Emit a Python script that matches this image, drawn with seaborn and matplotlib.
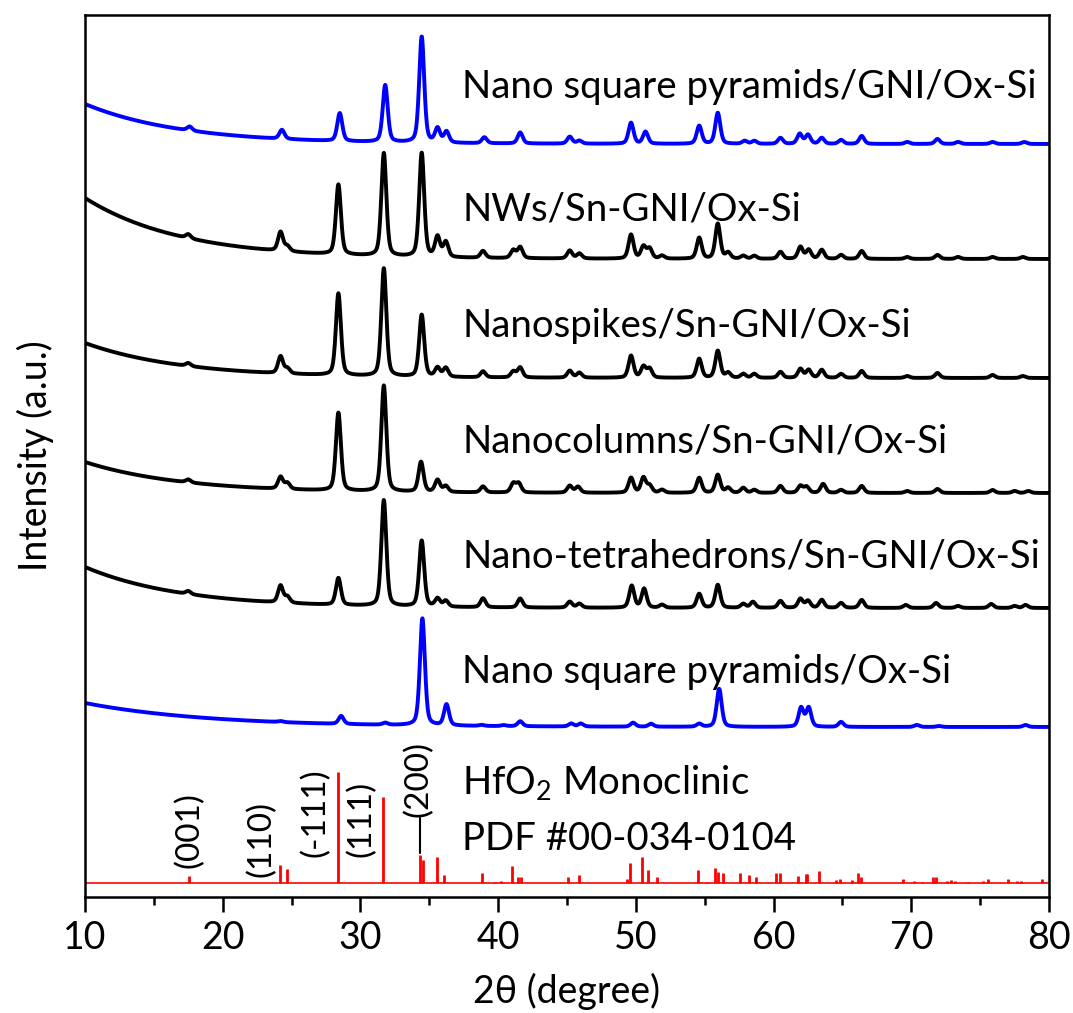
import numpy as np
import pandas as pd
import matplotlib
matplotlib.use("Agg")
import matplotlib.pyplot as plt
import seaborn as sns
from matplotlib.ticker import MultipleLocator

# ---------------- data ----------------
# Vertical unit: stacked display units (pattern offsets included).
# Sample patterns: flat baseline level, low-angle background rise, peak list.
gni_pyr_base, gni_pyr_bg = 753, 40
gni_pyr_pos = [17.6, 24.3, 28.5, 31.8, 34.45, 35.6, 36.25, 39.0, 41.6, 45.2, 45.9,
               49.65, 50.7, 54.6, 55.95, 57.9, 58.6, 60.5, 61.9, 62.5, 63.5, 64.9,
               66.4, 69.7, 71.9, 73.4, 75.9, 78.2]
gni_pyr_h = [4, 9, 28, 57, 106, 14, 11, 6, 11, 7, 3,
             21, 12, 18, 31, 3, 3, 6, 10, 9, 6, 4,
             8, 2, 5, 2, 2, 2]

nws_base, nws_bg = 638, 61
nws_pos = [17.5, 24.2, 24.7, 28.4, 31.7, 34.45, 35.6, 36.2, 38.9, 41.1, 41.6, 45.2, 45.9,
           49.65, 50.55, 51.0, 51.9, 54.6, 55.95, 56.7, 57.8, 58.6, 60.5, 61.95, 62.55,
           63.5, 64.9, 66.4, 69.7, 71.9, 73.4, 75.9, 78.1]
nws_h = [4, 19, 5, 70, 103, 104, 20, 15, 7, 8, 11, 8, 5,
         24, 12, 10, 3, 21, 35, 6, 3, 3, 7, 12, 9,
         9, 4, 8, 2, 4, 2, 2, 2]

spikes_base, spikes_bg = 519, 35
spikes_pos = [17.5, 24.2, 24.7, 28.4, 31.7, 34.45, 35.6, 36.2, 38.9, 41.1, 41.6, 45.2, 45.9,
              49.65, 50.55, 51.0, 54.6, 55.95, 56.7, 57.8, 58.6, 60.5, 61.95, 62.55, 63.5,
              64.9, 66.4, 69.7, 71.9, 75.9, 78.1]
spikes_h = [3, 17, 5, 82, 108, 62, 9, 9, 6, 6, 10, 7, 5,
            22, 11, 9, 19, 27, 5, 4, 4, 6, 9, 8, 8,
            4, 7, 2, 5, 3, 2]

columns_base, columns_bg = 404, 31
columns_pos = [17.5, 24.2, 24.7, 28.4, 31.7, 34.4, 35.6, 36.2, 38.9, 41.1, 41.5, 45.2, 45.8,
               49.65, 50.55, 51.0, 51.9, 54.6, 55.95, 56.7, 57.8, 58.6, 60.5, 61.95, 62.4,
               63.6, 64.9, 66.4, 69.7, 71.9, 75.9, 77.5, 78.5]
columns_h = [3, 12, 6, 78, 106, 30, 12, 6, 6, 9, 9, 7, 6,
             15, 15, 7, 3, 15, 18, 5, 5, 3, 7, 7, 6,
             9, 3, 7, 2, 4, 3, 2, 2]

tetra_base, tetra_bg = 289, 41
tetra_pos = [17.5, 24.2, 24.7, 28.4, 31.7, 34.45, 35.6, 36.2, 38.9, 41.6, 45.2, 45.9,
             49.7, 50.6, 51.9, 54.6, 55.95, 57.8, 58.5, 60.5, 61.95, 62.5, 63.5, 64.9,
             66.4, 69.6, 71.8, 73.4, 75.8, 77.5, 78.3]
tetra_h = [3, 17, 6, 27, 106, 66, 8, 6, 9, 9, 6, 4,
           22, 19, 3, 14, 23, 4, 6, 7, 9, 7, 8, 5,
           8, 3, 5, 2, 4, 2, 3]

bare_pyr_base, bare_pyr_bg = 170, 24
bare_pyr_pos = [24.2, 28.6, 31.8, 34.5, 36.25, 38.8, 40.4, 41.6, 45.3, 46.0, 49.8, 51.1,
                54.6, 56.05, 62.0, 62.55, 64.9, 70.4, 72.0, 78.3]
bare_pyr_h = [1, 8, 2, 107, 21, 1, 1, 5, 3, 3, 4, 3,
              3, 38, 19, 19, 5, 2, 1, 2]

# HfO2 monoclinic reference pattern, PDF #00-034-0104 (stick positions and heights)
ref_base = 14
ref_pos = [17.55, 24.17, 24.67, 28.35, 31.65, 34.33, 34.55, 35.56, 36.07, 38.8, 39.75,
           40.2, 40.97, 41.45, 41.65, 45.1, 45.9, 49.38, 49.6, 50.45, 50.9, 51.5,
           54.5, 55.2, 55.75, 55.97, 56.3, 57.55, 58.2, 58.7, 60.2, 60.5, 61.8,
           62.35, 62.45, 63.3, 64.5, 64.8, 65.7, 66.1, 66.35, 69.4, 70.2, 70.8,
           71.6, 71.8, 72.6, 72.9, 73.2, 74.1, 75.2, 75.6, 77.0, 77.7, 78.0, 79.5]
ref_h = [7, 18, 14, 111, 86, 28, 23, 26, 8, 10, 1,
         2, 17, 6, 6, 6, 8, 4, 20, 26, 13, 6,
         13, 1, 15, 11, 10, 10, 8, 6, 10, 10, 7,
         9, 9, 12, 3, 4, 3, 10, 6, 4, 2, 1,
         6, 6, 2, 3, 2, 1, 2, 4, 4, 2, 2, 4]

miller_labels = ["(001)", "(110)", "(-111)", "(111)", "(200)"]
miller_x = [17.6, 22.8, 26.7, 30.1, 34.2]
miller_y = [29, 20, 40, 40, 80]

pattern_names = ["Nano square pyramids/GNI/Ox-Si", "NWs/Sn-GNI/Ox-Si",
                 "Nanospikes/Sn-GNI/Ox-Si", "Nanocolumns/Sn-GNI/Ox-Si",
                 "Nano-tetrahedrons/Sn-GNI/Ox-Si", "Nano square pyramids/Ox-Si"]
pattern_colors = ["#0000ff", "#000000", "#000000", "#000000", "#000000", "#0000ff"]
label_y = [799, 676, 560, 444, 330, 214]

x_ticks = [10, 20, 30, 40, 50, 60, 70, 80]

# ---------------- build profiles ----------------
tt = np.linspace(10, 80, 3501)


def pattern(base, bg, pos, h, decay=7.0, fwhm=0.43, eta=0.4):
    d = tt[:, None] - np.asarray(pos, float)[None, :]
    gauss = np.exp(-4 * np.log(2) * (d / fwhm) ** 2)
    lorentz = 1.0 / (1.0 + (2 * d / fwhm) ** 2)
    peaks = ((eta * lorentz + (1 - eta) * gauss) * np.asarray(h, float)).sum(axis=1)
    return base + bg * np.exp(-(tt - 10) / decay) + peaks


specs = [
    (gni_pyr_base, gni_pyr_bg, gni_pyr_pos, gni_pyr_h, 7.0),
    (nws_base, nws_bg, nws_pos, nws_h, 7.0),
    (spikes_base, spikes_bg, spikes_pos, spikes_h, 7.0),
    (columns_base, columns_bg, columns_pos, columns_h, 7.0),
    (tetra_base, tetra_bg, tetra_pos, tetra_h, 7.0),
    (bare_pyr_base, bare_pyr_bg, bare_pyr_pos, bare_pyr_h, 9.0),
]
frames = []
for name, (b, bg, p, h, dec) in zip(pattern_names, specs):
    frames.append(pd.DataFrame({"two_theta": tt,
                                "intensity": pattern(b, bg, p, h, decay=dec),
                                "pattern": name}))
df = pd.concat(frames, ignore_index=True)

# ---------------- plotting ----------------
sns.set_theme(style="ticks")
plt.rcParams["font.family"] = ["Lato", "DejaVu Sans"]
plt.rcParams["mathtext.fontset"] = "custom"
plt.rcParams["mathtext.rm"] = "Lato"
plt.rcParams["text.color"] = "black"
plt.rcParams["axes.labelcolor"] = "black"
plt.rcParams["xtick.color"] = "black"
plt.rcParams["xtick.labelcolor"] = "black"

fig = plt.figure(figsize=(10.73, 10.13), dpi=100)
ax = fig.add_axes([85 / 1073, 1 - 897 / 1013, (1049 - 85) / 1073, (897 - 15) / 1013])

sns.lineplot(data=df, x="two_theta", y="intensity", hue="pattern",
             hue_order=pattern_names, palette=pattern_colors,
             estimator=None, sort=False, linewidth=2.8, legend=False, ax=ax)

# reference sticks
ax.axhline(ref_base, color="#ff0000", lw=1.2)
ax.vlines(ref_pos, ref_base, np.asarray(ref_h) + ref_base, color="#ff0000", lw=2.0)

lab_fs = 27.6
for name, y in zip(pattern_names, label_y):
    ax.text(37.4, y, name, fontsize=lab_fs, ha="left", va="baseline", color="black")
ax.text(37.4, 102, r"HfO$_\mathregular{2}$ Monoclinic", fontsize=lab_fs,
        ha="left", va="baseline", color="black")
ax.text(37.4, 47, "PDF #00-034-0104", fontsize=lab_fs, ha="left", va="baseline",
        color="black")

for lab, mx, my in zip(miller_labels, miller_x, miller_y):
    ax.text(mx, my, lab, rotation=90, fontsize=24, ha="center", va="bottom",
            color="black")
ax.plot([34.33, 34.33], [44, 79], color="black", lw=1.5)

ax.set_xlim(10, 80)
ax.set_ylim(0, 882)
ax.set_xticks(x_ticks)
ax.xaxis.set_minor_locator(MultipleLocator(5))
ax.set_yticks([])
ax.tick_params(axis="x", which="major", direction="out", length=10.5, width=1.8,
               labelsize=27, pad=6, top=False, colors="black")
ax.tick_params(axis="x", which="minor", direction="out", length=5.5, width=1.8,
               top=False, colors="black")
for s in ax.spines.values():
    s.set_visible(True)
    s.set_linewidth(1.8)
    s.set_color("black")

ax.set_xlabel("2θ (degree)", fontsize=27, labelpad=12, color="black")
ax.set_ylabel("Intensity (a.u.)", fontsize=27, labelpad=22, color="black")

fig.savefig("out.png", dpi=100)
